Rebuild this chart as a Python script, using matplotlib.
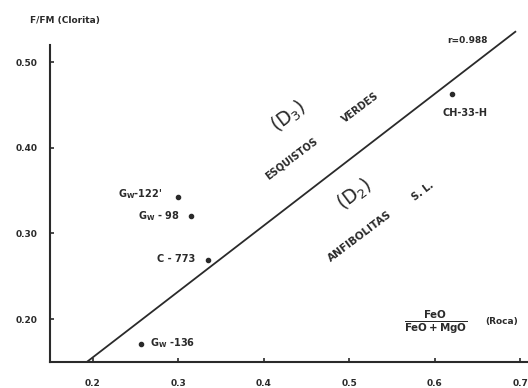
import matplotlib
matplotlib.use("Agg")
import matplotlib.pyplot as plt

# Data
sample_names = ["G$_\\mathbf{W}$-122'", "G$_\\mathbf{W}$ - 98", "C - 773", "G$_\\mathbf{W}$ -136", "CH-33-H"]
x_feo_roca = [0.300, 0.315, 0.335, 0.256, 0.620]
y_f_fm_clorita = [0.342, 0.320, 0.269, 0.171, 0.463]

# Regression line r = 0.988 (end points)
line_x = [0.193, 0.695]
line_y = [0.150, 0.536]

x_ticks = [0.2, 0.3, 0.4, 0.5, 0.6, 0.7]
x_ticklabels = ["0.2", "0.3", "0.4", "0.5", "0.6", "0.7"]
y_ticks = [0.20, 0.30, 0.40, 0.50]
y_ticklabels = ["0.20", "0.30", "0.40", "0.50"]

ink = "#2a2a2a"
plt.rcParams['font.family'] = ['DejaVu Sans']

fig = plt.figure(figsize=(5.28, 3.88), dpi=100)
fig.patch.set_facecolor("white")
ax = fig.add_axes([50/528, 1-362/388, 478/528, (362-23.5)/388])
ax.set_xlim(0.150, 0.709)
ax.set_ylim(0.150, 0.545)

for s in ["top", "right"]:
    ax.spines[s].set_visible(False)
for s in ["left", "bottom"]:
    ax.spines[s].set_linewidth(1.5)
    ax.spines[s].set_color(ink)
ax.spines["left"].set_bounds(0.150, 0.52)

ax.set_xticks(x_ticks)
ax.set_xticklabels(x_ticklabels)
ax.set_yticks(y_ticks)
ax.set_yticklabels(y_ticklabels)
ax.tick_params(axis="both", direction="in", length=3, width=1.2, color=ink,
               labelsize=6.5, labelcolor=ink)
ax.tick_params(axis="x", pad=12)
ax.tick_params(axis="y", pad=9)
for lab in ax.get_xticklabels() + ax.get_yticklabels():
    lab.set_fontweight("bold")

# regression line
ax.plot(line_x, line_y, color=ink, lw=1.3, clip_on=False, solid_capstyle="butt")

# points
ax.plot(x_feo_roca, y_f_fm_clorita, "o", color=ink, ms=3.0, ls="none")

tk = dict(fontsize=7, fontweight="bold", color=ink)
# label positions (data coords)
ax.text(0.281, 0.346, sample_names[0], ha="right", va="center", **tk)
ax.text(0.302, 0.320, sample_names[1], ha="right", va="center", **tk)
ax.text(0.3196, 0.270, sample_names[2], ha="right", va="center", **tk)
ax.text(0.267, 0.172, sample_names[3], ha="left", va="center", **tk)
ax.text(0.635, 0.440, sample_names[4], ha="center", va="center", **tk)

ax.text(0.638, 0.5246, "r=0.988", ha="center", va="center", fontsize=6.5,
        fontweight="bold", color=ink)

rot = 37
rk = dict(ha="center", va="center", rotation=rot, rotation_mode="anchor", color=ink)
ax.text(0.4295, 0.437, "(D$_3$)", fontsize=13.5, **rk)
ax.text(0.432, 0.387, "ESQUISTOS", fontsize=7, fontweight="bold", **rk)
ax.text(0.5126, 0.4475, "VERDES", fontsize=7, fontweight="bold", **rk)
ax.text(0.5067, 0.345, "(D$_2$)", fontsize=13.5, **rk)
ax.text(0.586, 0.3495, "S. L.", fontsize=7, fontweight="bold", **rk)
ax.text(0.5126, 0.296, "ANFIBOLITAS", fontsize=7.5, fontweight="bold", **rk)

ax.text(0.601, 0.196, r"$\frac{\mathbf{FeO}}{\mathbf{FeO+MgO}}$", ha="center", va="center",
        fontsize=10.5, color=ink)
ax.text(0.6787, 0.1967, "(Roca)", ha="center", va="center", fontsize=6.5,
        fontweight="bold", color=ink)

fig.text(30/528, 1-21/388, "F/FM (Clorita)", ha="left", va="center", fontsize=6.5,
         fontweight="bold", color=ink)

fig.savefig("out.png", dpi=100, facecolor="white")
